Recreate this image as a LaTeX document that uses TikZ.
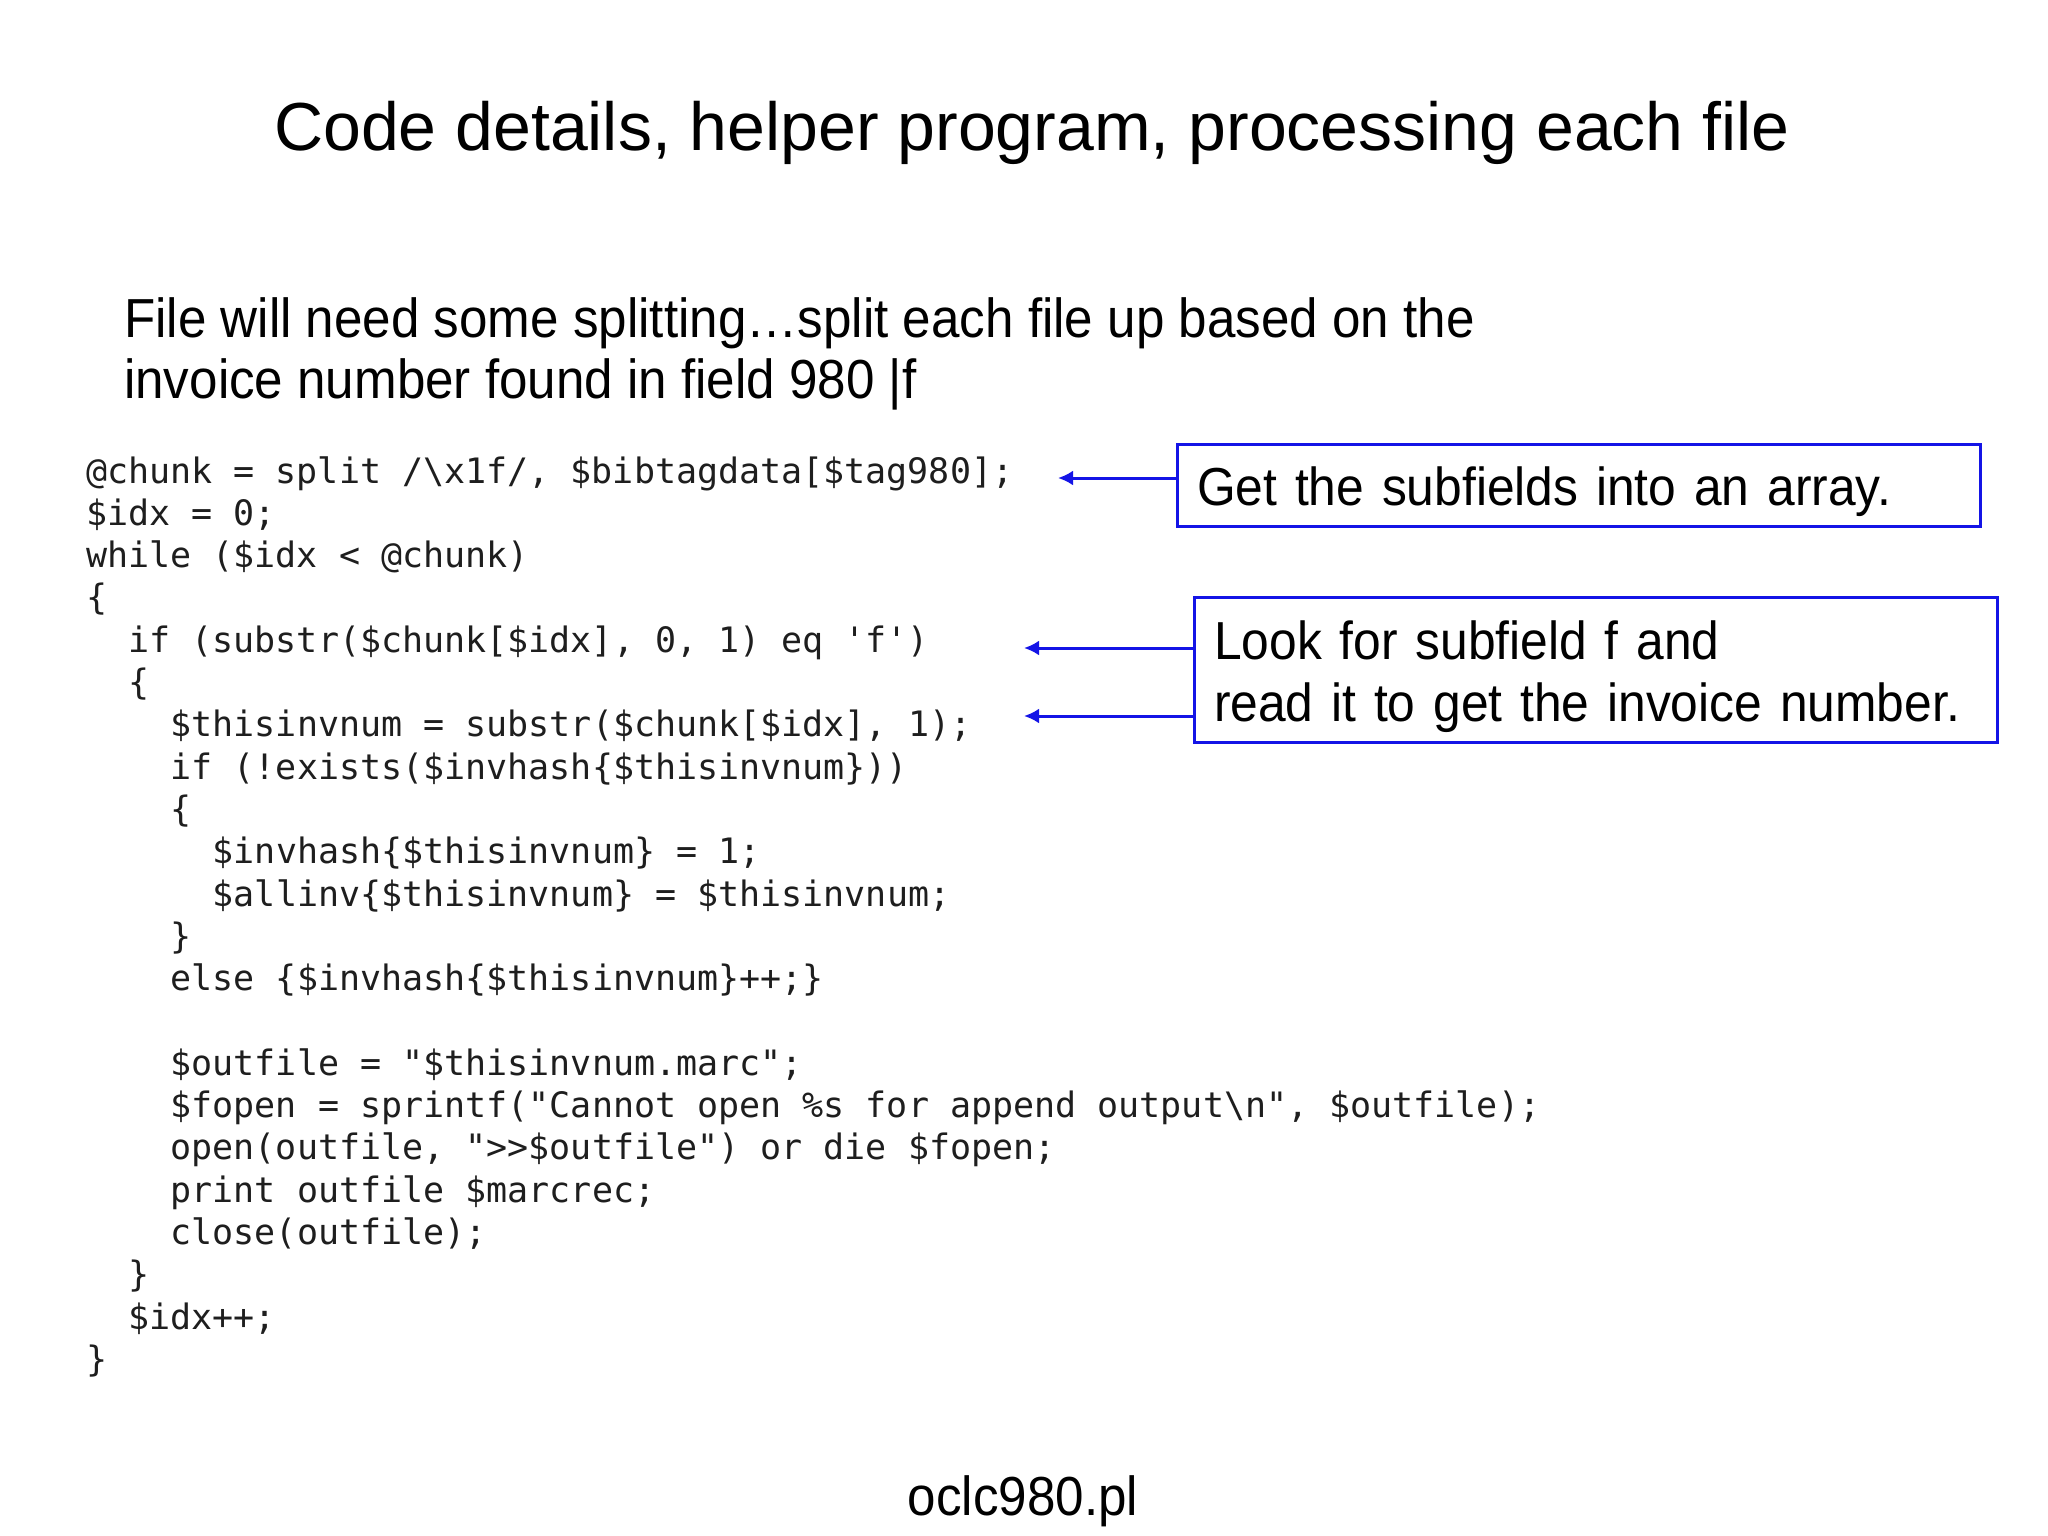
\documentclass[tikz,border=0pt]{standalone}
\usepackage{fontspec}
\setmainfont{Liberation Sans}
\newfontfamily\narrowfont[FakeStretch=0.93]{Liberation Sans}
\setmonofont{DejaVu Sans Mono}
\usetikzlibrary{arrows.meta}
\definecolor{boxblue}{RGB}{20,20,230}
\definecolor{codegray}{RGB}{30,30,30}
\newcommand{\boxstrut}{\rule{0pt}{53pt}}
\newcommand{\nohyph}{\hyphenpenalty=10000\relax\exhyphenpenalty=10000\relax}
\begin{document}
\begin{tikzpicture}[x=1pt,y=-1pt,
  titlestyle/.style={inner sep=0pt,font=\fontsize{68}{80}\selectfont},
  bodystyle/.style={inner sep=0pt,anchor=base west,font=\narrowfont\fontsize{55}{61}\selectfont},
  codeline/.style={inner sep=0pt,anchor=base west,text=codegray,font=\ttfamily\fontsize{35}{42}\selectfont},
  notebox/.style={draw=boxblue,line width=3pt,align=left,inner xsep=20pt,inner ysep=0pt,
    font=\narrowfont\fontsize{53.5}{62}\selectfont\nohyph,
    text width=763pt,minimum width=803pt},
  notearrow/.style={draw=boxblue,line width=3pt,-{Latex[length=15pt,width=15pt]}}
]
\useasboundingbox[fill=white] (0,0) rectangle (2048,1536);
% title
\node[titlestyle,anchor=base] (title) at (1032,150) {Code details, helper program, processing each file};
% subtitle
\node[bodystyle] (sub1) at (124,337) {File will need some splitting…split each file up based on the};
\node[bodystyle] (sub2) at (124,398) {invoice number found in field 980 |f};
% code
\def\cx{86}
\def\cw{21.1}
\node[codeline] (c1) at (\cx,483) {@chunk = split /\textbackslash x1f/, \$bibtagdata[\$tag980];};
\node[codeline] (c2) at (\cx,525.3) {\$idx = 0;};
\node[codeline] (c3) at (\cx,567.6) {while (\$idx < @chunk)};
\node[codeline] (c4) at (\cx,609.9) {\{};
\node[codeline] (c5) at (\cx+2*\cw,652.2) {if (substr(\$chunk[\$idx], 0, 1) eq 'f')};
\node[codeline] (c6) at (\cx+2*\cw,694.5) {\{};
\node[codeline] (c7) at (\cx+4*\cw,736.8) {\$thisinvnum = substr(\$chunk[\$idx], 1);};
\node[codeline] (c8) at (\cx+4*\cw,779.1) {if (!exists(\$invhash\{\$thisinvnum\}))};
\node[codeline] (c9) at (\cx+4*\cw,821.4) {\{};
\node[codeline] (c10) at (\cx+6*\cw,863.7) {\$invhash\{\$thisinvnum\} = 1;};
\node[codeline] (c11) at (\cx+6*\cw,906.0) {\$allinv\{\$thisinvnum\} = \$thisinvnum;};
\node[codeline] (c12) at (\cx+4*\cw,948.3) {\}};
\node[codeline] (c13) at (\cx+4*\cw,990.6) {else \{\$invhash\{\$thisinvnum\}++;\}};
\node[codeline] (c15) at (\cx+4*\cw,1075.2) {\$outfile = "\$thisinvnum.marc";};
\node[codeline] (c16) at (\cx+4*\cw,1117.5) {\$fopen = sprintf("Cannot open \%s for append output\textbackslash n", \$outfile);};
\node[codeline] (c17) at (\cx+4*\cw,1159.8) {open(outfile, ">>\$outfile") or die \$fopen;};
\node[codeline] (c18) at (\cx+4*\cw,1202.1) {print outfile \$marcrec;};
\node[codeline] (c19) at (\cx+4*\cw,1244.4) {close(outfile);};
\node[codeline] (c20) at (\cx+2*\cw,1286.7) {\}};
\node[codeline] (c21) at (\cx+2*\cw,1329.0) {\$idx++;};
\node[codeline] (c22) at (\cx,1371.3) {\}};
% note boxes
\node[notebox,minimum height=82pt] (b1) at (1578.5,485) {\boxstrut Get the subfields into an array.};
\node[notebox,minimum height=145pt] (b2) at (1595.5,669.5) {\boxstrut Look for subfield f and\\read it to get the invoice number.};
% arrows
\coordinate (a1) at (1058,478);
\coordinate (a2) at (1024,648);
\coordinate (a3) at (1024,716);
\draw[notearrow] (b1.west |- a1) -- (a1);
\draw[notearrow] (b2.west |- a2) -- (a2);
\draw[notearrow] (b2.west |- a3) -- (a3);
% footer
\node[bodystyle,anchor=base] (foot) at (1023,1515) {oclc980.pl};
\end{tikzpicture}
\end{document}
